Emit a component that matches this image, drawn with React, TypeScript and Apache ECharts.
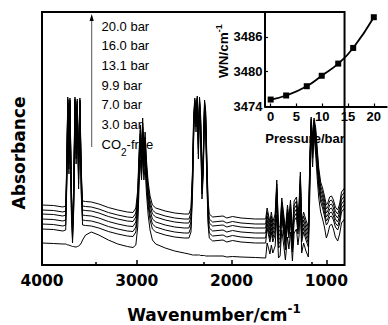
import React, { useEffect, useRef } from 'react';
import * as echarts from 'echarts';

// ---- Main spectra (wavenumber in cm-1, absorbance in arbitrary units) ----
const WAVENUMBERS = [
  4000, 3880, 3780, 3750, 3738, 3728, 3716, 3705, 3690, 3678,
  3665, 3652, 3640, 3628, 3614, 3600, 3586, 3572, 3540, 3480,
  3400, 3300, 3200, 3100, 3040, 3010, 2990, 2975, 2962, 2950,
  2938, 2925, 2912, 2898, 2880, 2860, 2835, 2800, 2700, 2600,
  2500, 2450, 2428, 2412, 2400, 2388, 2375, 2362, 2350, 2338,
  2325, 2312, 2298, 2285, 2272, 2260, 2248, 2235, 2200, 2090,
  2050, 1990, 1900, 1750, 1640, 1625, 1610, 1595, 1580, 1565,
  1540, 1523, 1505, 1488, 1470, 1450, 1432, 1410, 1395, 1378,
  1358, 1340, 1315, 1300, 1288, 1274, 1260, 1240, 1215, 1190,
  1172, 1160, 1145, 1130, 1112, 1095, 1080, 1060, 1040, 1020,
  1000, 985, 965, 945, 925, 905, 880, 860, 840, 808,
];

const A_20_0 = [
  0.60, 0.595, 0.58, 0.59, 1.05, 1.68, 1.15, 1.67, 0.75, 0.42,
  0.80, 1.68, 1.25, 1.66, 1.00, 1.67, 0.95, 0.64, 0.635, 0.63,
  0.61, 0.575, 0.55, 0.53, 0.525, 0.57, 0.75, 1.15, 1.40, 1.15,
  1.47, 1.17, 1.33, 1.05, 0.83, 0.69, 0.60, 0.57, 0.54, 0.52,
  0.51, 0.51, 0.57, 0.95, 1.50, 1.67, 1.57, 1.69, 1.30, 1.68,
  1.47, 0.90, 1.15, 1.65, 1.53, 1.05, 0.65, 0.51, 0.48, 0.49,
  0.47, 0.485, 0.47, 0.46, 0.46, 0.57, 0.50, 0.43, 0.53, 0.43,
  0.51, 0.85, 0.37, 0.39, 0.67, 0.51, 0.35, 0.60, 0.47, 0.65,
  0.33, 0.64, 0.68, 0.51, 0.61, 0.93, 0.43, 0.53, 0.45, 0.38,
  1.15, 1.48, 1.27, 1.47, 1.37, 1.15, 0.97, 0.83, 0.77, 0.69,
  0.60, 0.62, 0.68, 0.69, 0.65, 0.58, 0.55, 0.61, 0.73, 0.77,
];

const A_16_0 = [
  0.55, 0.545, 0.53, 0.54, 1.00, 1.66, 1.10, 1.65, 0.70, 0.38,
  0.75, 1.66, 1.20, 1.64, 0.95, 1.65, 0.90, 0.59, 0.585, 0.58,
  0.56, 0.525, 0.50, 0.48, 0.475, 0.52, 0.70, 1.10, 1.35, 1.10,
  1.42, 1.12, 1.28, 1.00, 0.78, 0.64, 0.55, 0.52, 0.49, 0.47,
  0.46, 0.46, 0.52, 0.90, 1.45, 1.65, 1.52, 1.67, 1.25, 1.66,
  1.42, 0.85, 1.10, 1.63, 1.48, 1.00, 0.60, 0.46, 0.43, 0.44,
  0.42, 0.435, 0.42, 0.41, 0.41, 0.53, 0.46, 0.39, 0.49, 0.39,
  0.47, 0.81, 0.33, 0.35, 0.63, 0.47, 0.31, 0.56, 0.43, 0.61,
  0.29, 0.60, 0.64, 0.47, 0.57, 0.89, 0.39, 0.49, 0.41, 0.34,
  1.11, 1.46, 1.23, 1.45, 1.33, 1.11, 0.93, 0.79, 0.73, 0.65,
  0.56, 0.58, 0.64, 0.65, 0.61, 0.54, 0.51, 0.57, 0.69, 0.73,
];

const A_13_1 = [
  0.51, 0.505, 0.49, 0.50, 0.96, 1.65, 1.06, 1.64, 0.66, 0.34,
  0.71, 1.65, 1.16, 1.63, 0.91, 1.64, 0.86, 0.55, 0.545, 0.54,
  0.52, 0.485, 0.46, 0.44, 0.435, 0.48, 0.66, 1.06, 1.31, 1.06,
  1.38, 1.08, 1.24, 0.96, 0.74, 0.60, 0.51, 0.48, 0.45, 0.43,
  0.42, 0.42, 0.48, 0.86, 1.41, 1.64, 1.48, 1.66, 1.21, 1.65,
  1.38, 0.81, 1.06, 1.62, 1.44, 0.96, 0.56, 0.42, 0.39, 0.40,
  0.38, 0.395, 0.38, 0.37, 0.37, 0.49, 0.42, 0.35, 0.45, 0.35,
  0.43, 0.77, 0.29, 0.31, 0.59, 0.43, 0.27, 0.52, 0.39, 0.57,
  0.25, 0.56, 0.60, 0.43, 0.53, 0.85, 0.35, 0.45, 0.37, 0.30,
  1.07, 1.44, 1.19, 1.43, 1.29, 1.07, 0.89, 0.75, 0.69, 0.61,
  0.52, 0.54, 0.60, 0.61, 0.57, 0.50, 0.47, 0.53, 0.65, 0.69,
];

const A_9_9 = [
  0.46, 0.455, 0.44, 0.45, 0.91, 1.63, 1.01, 1.62, 0.61, 0.30,
  0.66, 1.63, 1.11, 1.61, 0.86, 1.62, 0.81, 0.50, 0.495, 0.49,
  0.47, 0.435, 0.41, 0.39, 0.385, 0.43, 0.61, 1.01, 1.26, 1.01,
  1.33, 1.03, 1.19, 0.91, 0.69, 0.55, 0.46, 0.43, 0.40, 0.38,
  0.37, 0.37, 0.43, 0.81, 1.36, 1.62, 1.43, 1.64, 1.16, 1.63,
  1.33, 0.76, 1.01, 1.60, 1.39, 0.91, 0.51, 0.37, 0.34, 0.35,
  0.33, 0.345, 0.33, 0.32, 0.32, 0.45, 0.38, 0.31, 0.41, 0.31,
  0.39, 0.73, 0.25, 0.27, 0.55, 0.39, 0.23, 0.48, 0.35, 0.53,
  0.21, 0.52, 0.56, 0.39, 0.49, 0.81, 0.31, 0.41, 0.33, 0.26,
  1.03, 1.42, 1.15, 1.41, 1.25, 1.03, 0.85, 0.71, 0.65, 0.57,
  0.48, 0.50, 0.56, 0.57, 0.53, 0.46, 0.43, 0.49, 0.61, 0.65,
];

const A_7_0 = [
  0.41, 0.405, 0.39, 0.40, 0.86, 1.62, 0.96, 1.61, 0.56, 0.26,
  0.61, 1.62, 1.06, 1.60, 0.81, 1.61, 0.76, 0.45, 0.445, 0.44,
  0.42, 0.385, 0.36, 0.34, 0.335, 0.38, 0.56, 0.96, 1.21, 0.96,
  1.28, 0.98, 1.14, 0.86, 0.64, 0.50, 0.41, 0.38, 0.35, 0.33,
  0.32, 0.32, 0.38, 0.76, 1.31, 1.61, 1.38, 1.63, 1.11, 1.62,
  1.28, 0.71, 0.96, 1.59, 1.34, 0.86, 0.46, 0.32, 0.29, 0.30,
  0.28, 0.295, 0.28, 0.27, 0.27, 0.41, 0.34, 0.27, 0.37, 0.27,
  0.35, 0.69, 0.21, 0.23, 0.51, 0.35, 0.19, 0.44, 0.31, 0.49,
  0.17, 0.48, 0.52, 0.35, 0.45, 0.77, 0.27, 0.37, 0.29, 0.22,
  0.99, 1.40, 1.11, 1.39, 1.21, 0.99, 0.81, 0.67, 0.61, 0.53,
  0.44, 0.46, 0.52, 0.53, 0.49, 0.42, 0.39, 0.45, 0.57, 0.61,
];

const A_3_0 = [
  0.36, 0.355, 0.34, 0.35, 0.81, 1.60, 0.91, 1.59, 0.51, 0.22,
  0.56, 1.60, 1.01, 1.58, 0.76, 1.59, 0.71, 0.40, 0.395, 0.39,
  0.37, 0.335, 0.31, 0.29, 0.285, 0.33, 0.51, 0.91, 1.16, 0.91,
  1.23, 0.93, 1.09, 0.81, 0.59, 0.45, 0.36, 0.33, 0.30, 0.28,
  0.27, 0.27, 0.33, 0.71, 1.26, 1.59, 1.33, 1.61, 1.06, 1.60,
  1.23, 0.66, 0.91, 1.57, 1.29, 0.81, 0.41, 0.27, 0.24, 0.25,
  0.23, 0.245, 0.23, 0.22, 0.22, 0.37, 0.30, 0.23, 0.33, 0.23,
  0.31, 0.65, 0.17, 0.19, 0.47, 0.31, 0.15, 0.40, 0.27, 0.45,
  0.13, 0.44, 0.48, 0.31, 0.41, 0.73, 0.23, 0.33, 0.25, 0.18,
  0.95, 1.38, 1.07, 1.37, 1.17, 0.95, 0.77, 0.63, 0.57, 0.49,
  0.40, 0.42, 0.48, 0.49, 0.45, 0.38, 0.35, 0.41, 0.53, 0.57,
];

const A_CO2_FREE = [
  0.22, 0.215, 0.21, 0.21, 0.205, 0.20, 0.20, 0.195, 0.19, 0.185,
  0.185, 0.18, 0.18, 0.185, 0.19, 0.20, 0.22, 0.25, 0.30, 0.33,
  0.30, 0.25, 0.21, 0.185, 0.175, 0.20, 0.38, 0.80, 1.05, 0.85,
  1.10, 0.85, 0.98, 0.72, 0.50, 0.35, 0.25, 0.21, 0.17, 0.14,
  0.12, 0.11, 0.105, 0.10, 0.10, 0.10, 0.10, 0.10, 0.10, 0.10,
  0.095, 0.095, 0.095, 0.095, 0.09, 0.09, 0.09, 0.09, 0.09, 0.09,
  0.08, 0.085, 0.08, 0.075, 0.07, 0.22, 0.17, 0.11, 0.20, 0.12,
  0.19, 0.50, 0.07, 0.09, 0.35, 0.20, 0.05, 0.28, 0.16, 0.33,
  0.04, 0.32, 0.36, 0.20, 0.29, 0.60, 0.12, 0.22, 0.14, 0.08,
  0.80, 1.30, 0.98, 1.30, 1.10, 0.85, 0.67, 0.53, 0.46, 0.38,
  0.27, 0.31, 0.39, 0.41, 0.36, 0.28, 0.24, 0.31, 0.42, 0.46,
];

const SPECTRA = [A_20_0, A_16_0, A_13_1, A_9_9, A_7_0, A_3_0, A_CO2_FREE];
const PRESSURE_LABELS = ['20.0 bar', '16.0 bar', '13.1 bar', '9.9 bar', '7.0 bar', '3.0 bar'];

const MAIN_X_LABELS = [4000, 3000, 2000, 1000];
const MAIN_X_MINOR = [3500, 2500, 1500];

// ---- Inset: band position vs pressure ----
const INSET_PRESSURE = [0, 3.0, 7.0, 9.9, 13.1, 16.0, 20.0];
const INSET_WN = [3475.2, 3475.9, 3477.5, 3479.3, 3481.4, 3484.1, 3489.4];
const INSET_X_TICKS = [0, 5, 10, 15, 20];
const INSET_Y_TICKS = [3474, 3480, 3486];

const DEJAVU = '"DejaVu Sans", sans-serif';
const ARIAL = '"Liberation Sans", Arial, sans-serif';
const plain = (v: number) => String(v);

export default function App() {
  const ref = useRef<HTMLDivElement>(null);

  useEffect(() => {
    if (!ref.current) return;
    const chart = echarts.init(ref.current, undefined, { renderer: 'svg' });

    const spectraSeries = SPECTRA.map((arr) => ({
      type: 'line',
      xAxisIndex: 0,
      yAxisIndex: 0,
      data: WAVENUMBERS.map((w, j) => [w, arr[j]]),
      symbol: 'none',
      showSymbol: false,
      silent: true,
      lineStyle: { color: '#000', width: 1 },
    }));

    const legendTexts: any[] = PRESSURE_LABELS.map((t, i) => ({
      type: 'text',
      x: 101.5,
      y: 26 + i * 19.7,
      silent: true,
      style: {
        text: t,
        font: `13px ${ARIAL}`,
        fill: '#000',
        textAlign: 'left',
        textVerticalAlign: 'middle',
      },
    }));
    legendTexts.push({
      type: 'text',
      x: 101.5,
      y: 26 + 6 * 19.7,
      silent: true,
      style: {
        text: 'CO{sub|2}-free',
        font: `13px ${ARIAL}`,
        fill: '#000',
        textAlign: 'left',
        textVerticalAlign: 'middle',
        rich: { sub: { font: `10px ${ARIAL}`, fill: '#000', padding: [16, 0, 0, 0] } },
      },
    });

    const option: any = {
      animation: false,
      backgroundColor: '#fff',
      grid: [
        { left: 42, right: 1.3, top: 12, bottom: 60, show: true, borderColor: '#000', borderWidth: 2, backgroundColor: 'transparent' },
        { left: 265, right: 1.3, top: 12, bottom: 218.5, show: false },
        { left: 42, right: 1.3, top: 12, bottom: 60, show: false },
      ],
      xAxis: [
        {
          gridIndex: 0, type: 'value', inverse: true, min: 808, max: 4000, position: 'bottom',
          axisLine: { show: false }, splitLine: { show: false },
          axisTick: { show: true, inside: true, length: 5, lineStyle: { color: '#000', width: 1.5 }, customValues: MAIN_X_LABELS },
          axisLabel: { customValues: MAIN_X_LABELS, formatter: plain, color: '#000', fontFamily: DEJAVU, fontWeight: 'bold', fontSize: 15.5, margin: 8 },
        },
        {
          gridIndex: 1, type: 'value', min: -1.1, max: 22.5, position: 'bottom',
          axisLine: { show: true, onZero: false, lineStyle: { color: '#000', width: 2 } },
          splitLine: { show: false },
          axisTick: { show: true, inside: true, length: 3, lineStyle: { color: '#000', width: 1.2 }, customValues: INSET_X_TICKS },
          axisLabel: { customValues: INSET_X_TICKS, formatter: plain, color: '#000', fontFamily: ARIAL, fontWeight: 'bold', fontSize: 13, margin: 3 },
        },
        {
          gridIndex: 2, type: 'value', inverse: true, min: 808, max: 4000, position: 'bottom',
          axisLine: { show: false }, splitLine: { show: false }, axisLabel: { show: false },
          axisTick: { show: true, inside: true, length: 3, lineStyle: { color: '#000', width: 1.5 }, customValues: MAIN_X_MINOR },
        },
      ],
      yAxis: [
        { gridIndex: 0, type: 'value', min: 0, max: 2.53, show: false },
        {
          gridIndex: 1, type: 'value', min: 3474, max: 3490.3, position: 'left',
          axisLine: { show: true, onZero: false, lineStyle: { color: '#000', width: 2 } },
          splitLine: { show: false },
          axisTick: { show: true, inside: true, length: 3, lineStyle: { color: '#000', width: 1.2 }, customValues: INSET_Y_TICKS },
          axisLabel: { customValues: INSET_Y_TICKS, formatter: plain, color: '#000', fontFamily: ARIAL, fontWeight: 'bold', fontSize: 13, margin: 2.5 },
        },
        { gridIndex: 2, type: 'value', min: 0, max: 1, show: false },
      ],
      series: [
        ...spectraSeries,
        {
          type: 'line',
          xAxisIndex: 1,
          yAxisIndex: 1,
          data: INSET_PRESSURE.map((p, i) => [p, INSET_WN[i]]),
          smooth: 0.5,
          symbol: 'rect',
          symbolSize: 6,
          itemStyle: { color: '#000' },
          lineStyle: { color: '#000', width: 1.8 },
          silent: true,
        },
      ],
      graphic: {
        elements: [
          {
            type: 'text', x: 19, y: 153, rotation: Math.PI / 2, silent: true,
            style: { text: 'Absorbance', font: `bold 17px ${DEJAVU}`, fill: '#000', textAlign: 'center', textVerticalAlign: 'middle' },
          },
          {
            type: 'text', x: 214, y: 315, silent: true,
            style: {
              text: 'Wavenumber/cm{sup|-1}', font: `bold 17px ${DEJAVU}`, fill: '#000', textAlign: 'center', textVerticalAlign: 'middle',
              rich: { sup: { font: `bold 12px ${DEJAVU}`, fill: '#000', padding: [0, 0, 13, 0] } },
            },
          },
          {
            type: 'text', x: 223, y: 51, rotation: Math.PI / 2, silent: true,
            style: {
              text: 'WN/cm{sup|-1}', font: `bold 13.5px ${ARIAL}`, fill: '#000', textAlign: 'center', textVerticalAlign: 'middle',
              rich: { sup: { font: `bold 9px ${ARIAL}`, fill: '#000', padding: [0, 0, 9, 0] } },
            },
          },
          {
            type: 'text', x: 305, y: 138, silent: true,
            style: { text: 'Pressure/bar', font: `bold 13px ${ARIAL}`, fill: '#000', textAlign: 'center', textVerticalAlign: 'middle' },
          },
          {
            type: 'line', silent: true,
            shape: { x1: 91.7, y1: 147, x2: 91.7, y2: 20 },
            style: { stroke: '#555', lineWidth: 1 },
          },
          {
            type: 'polygon', silent: true,
            shape: { points: [[89.6, 21], [93.8, 21], [91.7, 14]] },
            style: { fill: '#000' },
          },
          ...legendTexts,
        ],
      },
    };

    chart.setOption(option);
    return () => chart.dispose();
  }, []);

  return (
    <div
      ref={ref}
      style={{ position: 'fixed', left: 0, top: 0, width: 388, height: 325, background: '#fff' }}
    />
  );
}
